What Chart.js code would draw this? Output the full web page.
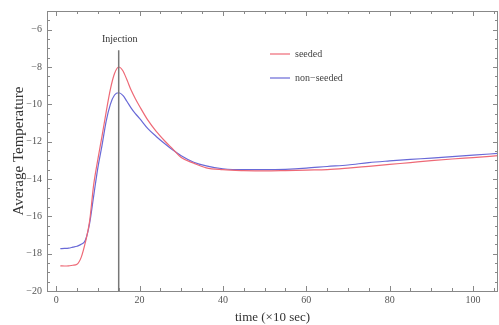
<!DOCTYPE html>
<html>
<head>
<meta charset="utf-8">
<script src="https://cdn.jsdelivr.net/npm/chart.js@4/dist/chart.umd.min.js"></script>
<style>
  html, body { margin: 0; padding: 0; background: #fff; }
  #wrap { width: 499px; height: 325px; }
</style>
</head>
<body>
<div id="wrap"><canvas id="tempChart" width="499" height="325"></canvas></div>
<script>
// --- data ---
const timeSteps = [1, 2, 3, 4, 5, 6, 7, 8, 9, 10, 11, 12, 13, 14, 15, 16, 17, 18, 19, 20,
    22, 24, 26, 28, 30, 33, 36, 40, 45, 50, 55, 60, 65, 70, 75, 80, 85, 90, 95, 100, 106];

const seededTemp = [-18.65, -18.66, -18.65, -18.62, -18.57, -18.2, -17.4, -16.3, -14.3, -12.95,
    -11.7, -10.4, -9.2, -8.35, -8.0, -8.2, -8.7, -9.25, -9.7, -10.1,
    -10.85, -11.45, -11.95, -12.4, -12.85, -13.15, -13.4, -13.5, -13.55, -13.57,
    -13.55, -13.52, -13.5, -13.42, -13.32, -13.22, -13.12, -13.02, -12.93, -12.85, -12.75];

const nonSeededTemp = [-17.73, -17.72, -17.7, -17.65, -17.6, -17.5, -17.28, -16.4, -14.9, -13.4,
    -12.2, -10.9, -10.0, -9.5, -9.38, -9.52, -9.85, -10.2, -10.5, -10.75,
    -11.3, -11.72, -12.1, -12.45, -12.75, -13.1, -13.3, -13.45, -13.5, -13.5,
    -13.48, -13.42, -13.33, -13.25, -13.12, -13.03, -12.95, -12.88, -12.8, -12.72, -12.63];

const injectionTime = 15;
const injectionSpan = [-7.1, -20];
const seriesLabels = ['seeded', 'non\u2212seeded'];
const xTickLabels = [0, 20, 40, 60, 80, 100];
const yTickLabels = [-6, -8, -10, -12, -14, -16, -18, -20];

const SERIF = '"Liberation Serif", "DejaVu Serif", serif';
const RED = 'rgb(238, 105, 118)';
const BLUE = 'rgb(105, 105, 215)';

const toPoints = (xs, ys) => xs.map((x, i) => ({ x: x, y: ys[i] }));

// frame with inward ticks, Mathematica style
const frameTicks = {
    id: 'frameTicks',
    afterDatasetsDraw(chart) {
        const { ctx, chartArea: a, scales } = chart;
        ctx.save();
        ctx.strokeStyle = '#888';
        ctx.lineWidth = 1;
        ctx.strokeRect(a.left + 0.5, a.top + 0.5, a.right - a.left - 1, a.bottom - a.top);
        ctx.beginPath();
        scales.x.ticks.forEach(t => {
            const px = Math.round(scales.x.getPixelForValue(t.value)) + 0.5;
            const len = xTickLabels.includes(t.value) ? 5 : 3;
            ctx.moveTo(px, a.bottom); ctx.lineTo(px, a.bottom - len);
            ctx.moveTo(px, a.top); ctx.lineTo(px, a.top + len);
        });
        scales.y.ticks.forEach(t => {
            const py = Math.round(scales.y.getPixelForValue(t.value)) + 0.5;
            const len = yTickLabels.includes(t.value) ? 5 : 3;
            ctx.moveTo(a.left, py); ctx.lineTo(a.left + len, py);
            ctx.moveTo(a.right, py); ctx.lineTo(a.right - len, py);
        });
        ctx.stroke();
        ctx.restore();
    }
};

// injection caption and in-plot legend
const annotations = {
    id: 'annotations',
    afterDraw(chart) {
        const { ctx, chartArea: a, scales } = chart;
        ctx.save();
        ctx.font = '10px ' + SERIF;
        ctx.fillStyle = '#333';
        ctx.textAlign = 'center';
        ctx.textBaseline = 'middle';
        ctx.fillText('Injection', scales.x.getPixelForValue(injectionTime) + 1, a.top + 28);

        const colors = [RED, BLUE];
        ctx.textAlign = 'left';
        seriesLabels.forEach((lbl, i) => {
            const y = a.top + 43 + i * 24;
            ctx.strokeStyle = colors[i];
            ctx.lineWidth = 1.2;
            ctx.beginPath();
            ctx.moveTo(a.left + 223, y); ctx.lineTo(a.left + 243, y);
            ctx.stroke();
            ctx.fillStyle = '#444';
            ctx.fillText(lbl, a.left + 248, y);
        });
        ctx.restore();
    }
};

function renderChart() {
    const ctx = document.getElementById('tempChart').getContext('2d');
    new Chart(ctx, {
        type: 'line',
        data: {
            datasets: [
                {
                    label: 'Injection',
                    data: injectionSpan.map(y => ({ x: injectionTime, y: y })),
                    borderColor: '#777',
                    borderWidth: 1.5,
                    pointRadius: 0
                },
                {
                    label: seriesLabels[0],
                    data: toPoints(timeSteps, seededTemp),
                    borderColor: RED,
                    borderWidth: 1.2,
                    pointRadius: 0,
                    cubicInterpolationMode: 'monotone'
                },
                {
                    label: seriesLabels[1],
                    data: toPoints(timeSteps, nonSeededTemp),
                    borderColor: BLUE,
                    borderWidth: 1.2,
                    pointRadius: 0,
                    cubicInterpolationMode: 'monotone'
                }
            ]
        },
        options: {
            responsive: false,
            animation: false,
            layout: { padding: { top: 9, right: 1, left: 0, bottom: 0 } },
            plugins: {
                legend: { display: false },
                tooltip: { enabled: false }
            },
            scales: {
                x: {
                    type: 'linear',
                    min: -2.2,
                    max: 106,
                    afterFit: s => { s.height = 34; },
                    afterBuildTicks: s => {
                        s.ticks = [];
                        for (let v = 0; v <= 105; v += 5) s.ticks.push({ value: v });
                    },
                    grid: { display: false, drawTicks: false },
                    border: { display: false },
                    ticks: {
                        padding: 3,
                        autoSkip: false,
                        maxRotation: 0,
                        color: '#555',
                        font: { family: SERIF, size: 10 },
                        callback: v => xTickLabels.includes(v) ? String(v) : ''
                    },
                    title: {
                        display: true,
                        text: 'time (\u00d710 sec)',
                        color: '#333',
                        font: { family: SERIF, size: 13 },
                        padding: { top: 0, bottom: 0 }
                    }
                },
                y: {
                    type: 'linear',
                    min: -20,
                    max: -5,
                    afterFit: s => { s.width = 47; },
                    afterBuildTicks: s => {
                        s.ticks = [];
                        for (let v = -20; v <= -5; v += 0.5) s.ticks.push({ value: v });
                    },
                    grid: { display: false, drawTicks: false },
                    border: { display: false },
                    ticks: {
                        padding: 5,
                        autoSkip: false,
                        color: '#555',
                        font: { family: SERIF, size: 10 },
                        callback: v => yTickLabels.includes(v) ? '\u2212' + Math.abs(v) : ''
                    },
                    title: {
                        display: true,
                        text: 'Average Temperature',
                        color: '#333',
                        font: { family: SERIF, size: 15 },
                        padding: { top: 10, bottom: 0 }
                    }
                }
            }
        },
        plugins: [frameTicks, annotations]
    });
}

renderChart();
</script>
</body>
</html>
